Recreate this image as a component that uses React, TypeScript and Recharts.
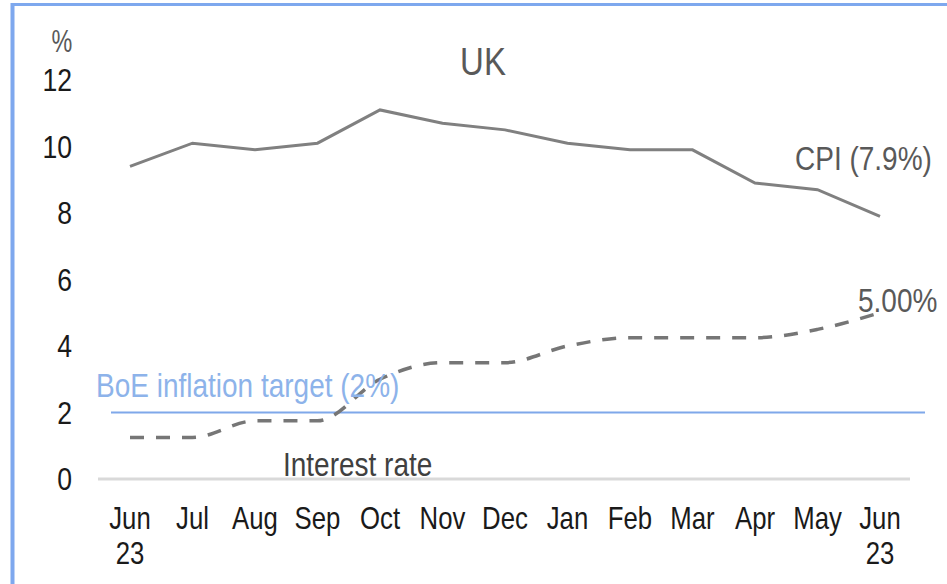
import React from "react";
import { LineChart, Line, XAxis, YAxis, ReferenceLine } from "recharts";

const months = ["Jun 23", "Jul", "Aug", "Sep", "Oct", "Nov", "Dec", "Jan", "Feb", "Mar", "Apr", "May", "Jun 23"];
const cpi = [9.4, 10.1, 9.9, 10.1, 11.1, 10.7, 10.5, 10.1, 9.9, 9.9, 8.9, 8.7, 7.9];
const rate = [1.25, 1.25, 1.75, 1.75, 3.0, 3.5, 3.5, 4.0, 4.25, 4.25, 4.25, 4.5, 5.0];
const yTicks = [0, 2, 4, 6, 8, 10, 12];
const inflationTarget = 2;

const data = months.map((m, i) => ({ month: m, cpi: cpi[i], rate: rate[i] }));

const FONT = "'Liberation Sans', Arial, sans-serif";
const SY = 1.18;

function SText({ x, y, anchor = "start", size, color, sx = 1, sy = SY, children }: any) {
  return (
    <text
      transform={`translate(${x},${y}) scale(${sx},${sy})`}
      textAnchor={anchor}
      dy="0.36em"
      fontFamily={FONT}
      fontSize={size}
      fill={color}
    >
      {children}
    </text>
  );
}

const YTick = (props: any) => {
  const { x, y, payload } = props;
  return (
    <SText x={x} y={y} anchor="end" size={28} sx={0.95} sy={1.12} color="#1a1a1a">
      {payload.value}
    </SText>
  );
};

const XTick = (props: any) => {
  const { x, y, payload } = props;
  const parts = String(payload.value).split(" ");
  return (
    <text
      transform={`translate(${x},${y}) scale(0.92,1.12)`}
      textAnchor="middle"
      fontFamily={FONT}
      fontSize={28}
      fill="#1a1a1a"
    >
      <tspan x={0} dy="0.36em">{parts[0]}</tspan>
      {parts[1] ? <tspan x={0} dy={31}>{parts[1]}</tspan> : null}
    </text>
  );
};

export default function App() {
  return (
    <div style={{ position: "absolute", left: 0, top: 0, width: 947, height: 584, background: "#fff" }}>
      <LineChart
        width={947}
        height={584}
        data={data}
        margin={{ top: 80, right: 37, bottom: 5, left: 0 }}
      >
        <XAxis
          dataKey="month"
          interval={0}
          padding={{ left: 32, right: 30 }}
          axisLine={{ stroke: "#d9d9d9", strokeWidth: 3 }}
          tickLine={false}
          tickSize={0}
          tickMargin={39}
          height={100}
          tick={<XTick />}
        />
        <YAxis
          domain={[0, 12]}
          ticks={yTicks}
          width={98}
          axisLine={false}
          tickLine={false}
          tickSize={0}
          tickMargin={26}
          tick={<YTick />}
        />
        <ReferenceLine
          y={inflationTarget}
          stroke="#7fa8ea"
          strokeWidth={2}
          ifOverflow="visible"
          shape={(p: any) => (
            <line x1={p.x1 + 13} y1={p.y1} x2={p.x2 + 15} y2={p.y2} stroke="#7fa8ea" strokeWidth={2} />
          )}
        />
        <Line
          type="linear"
          dataKey="cpi"
          stroke="#808080"
          strokeWidth={3}
          dot={false}
          activeDot={false}
          isAnimationActive={false}
        />
        <Line
          type="monotone"
          dataKey="rate"
          stroke="#767676"
          strokeWidth={3.5}
          strokeDasharray="14 12"
          dot={false}
          activeDot={false}
          isAnimationActive={false}
        />
      </LineChart>
      <svg
        width={947}
        height={584}
        style={{ position: "absolute", left: 0, top: 0, pointerEvents: "none" }}
      >
        <line x1={12} y1={4.5} x2={947} y2={4.5} stroke="#7ea8ee" strokeWidth={3} />
        <line x1={12.5} y1={3} x2={12.5} y2={584} stroke="#7ea8ee" strokeWidth={4} />
        <SText x={62} y={41} anchor="middle" size={26} sx={0.9} color="#595959">%</SText>
        <SText x={483} y={61} anchor="middle" size={33} color="#595959">UK</SText>
        <SText x={795} y={158} size={28} color="#595959">CPI (7.9%)</SText>
        <SText x={858} y={300} size={28} color="#595959">5.00%</SText>
        <SText x={96} y={385} size={28} color="#8db3ea">BoE inflation target (2%)</SText>
        <SText x={283} y={464} size={28} color="#404040">Interest rate</SText>
      </svg>
    </div>
  );
}
